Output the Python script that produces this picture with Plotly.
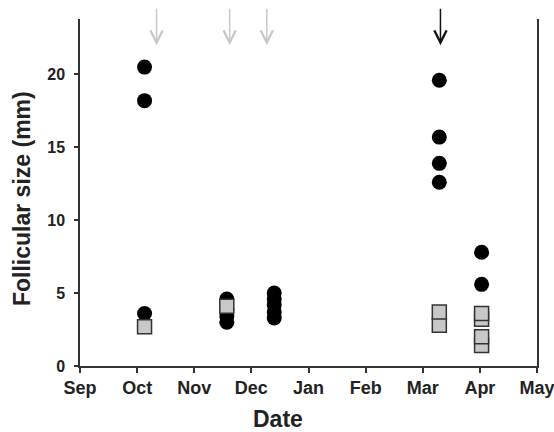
import plotly.graph_objects as go

# x positions are in months after 1 September (Sep=0 ... May=8)
month_labels = ["Sep", "Oct", "Nov", "Dec", "Jan", "Feb", "Mar", "Apr", "May"]
month_ticks = [0, 1, 2, 3, 4, 5, 6, 7, 8]
y_ticks = [0, 5, 10, 15, 20]

# large follicles (black circles)
circle_x = [1.13, 1.13, 1.13,
            2.57, 2.57, 2.57, 2.57,
            3.40, 3.40, 3.40, 3.40, 3.40,
            6.29, 6.29, 6.29, 6.29,
            7.03, 7.03]
circle_y = [20.5, 18.2, 3.6,
            4.6, 3.9, 3.4, 3.0,
            5.0, 4.6, 4.2, 3.7, 3.3,
            19.6, 15.7, 13.9, 12.6,
            7.8, 5.6]

# small follicles (grey squares)
square_x = [1.13, 2.57, 6.29, 6.29, 7.03, 7.03, 7.03, 7.03]
square_y = [2.7, 4.1, 2.8, 3.7, 1.4, 2.0, 3.2, 3.6]

# arrows (events) : grey ones and black one
grey_arrow_x = [1.34, 2.62, 3.27]
black_arrow_x = [6.31]
arrow_tip_y = 22.0

FONT = "Liberation Sans, Arial"

fig = go.Figure()
fig.add_trace(go.Scatter(
    x=circle_x, y=circle_y, mode="markers",
    marker=dict(symbol="circle", size=15, color="#000000",
                line=dict(width=0)),
    showlegend=False, cliponaxis=False))
fig.add_trace(go.Scatter(
    x=square_x, y=square_y, mode="markers",
    marker=dict(symbol="square", size=14, color="#c8c8c8",
                line=dict(width=1.5, color="#333333")),
    showlegend=False, cliponaxis=False))

annotations = []
for xv in grey_arrow_x:
    annotations.append(dict(x=xv, y=arrow_tip_y, xref="x", yref="y", text="",
                            showarrow=True, ax=0, ay=-38, arrowhead=5,
                            arrowsize=1.6, arrowwidth=1.5, arrowcolor="#c8c8c8"))
for xv in black_arrow_x:
    annotations.append(dict(x=xv, y=arrow_tip_y, xref="x", yref="y", text="",
                            showarrow=True, ax=0, ay=-38, arrowhead=5,
                            arrowsize=1.6, arrowwidth=1.5, arrowcolor="#111111"))

annotations.append(dict(text="Follicular size (mm)", xref="paper", yref="paper",
                        x=-0.127, y=0.484, textangle=-90, showarrow=False,
                        xanchor="center", yanchor="middle",
                        font=dict(family=FONT, size=23, color="#222222", weight="bold")))
annotations.append(dict(text="Date", xref="paper", yref="paper",
                        x=0.433, y=-0.152, showarrow=False,
                        xanchor="center", yanchor="middle",
                        font=dict(family=FONT, size=23, color="#222222", weight="bold")))

fig.update_layout(
    width=554, height=432,
    margin=dict(l=80, r=17, t=19, b=66, autoexpand=False),
    paper_bgcolor="white", plot_bgcolor="white",
    annotations=annotations,
    xaxis=dict(range=[0, 8], tickvals=month_ticks, ticktext=month_labels,
               automargin=False,
               showgrid=False, zeroline=False, showline=True,
               linecolor="#333333", linewidth=1.5,
               ticks="outside", ticklen=5, tickwidth=1.5, tickcolor="#333333",
               ticklabeloverflow="allow",
               tickfont=dict(family=FONT, size=18, color="#222222", weight="bold")),
    yaxis=dict(range=[0, 23.8], tickvals=y_ticks,
               automargin=False,
               showgrid=False, zeroline=False, showline=True, mirror=True,
               linecolor="#333333", linewidth=1.5,
               ticks="outside", ticklen=4, tickwidth=1.5, tickcolor="#333333",
               ticklabelstandoff=6,
               tickfont=dict(family=FONT, size=16, color="#222222", weight="bold")),
)

# remove the page's default body margin so the 554x432 figure fills the window
fig.write_html("out.html",
               config={"displayModeBar": False},
               post_script="document.body.style.margin='0';"
                           "document.documentElement.style.overflow='hidden';")
